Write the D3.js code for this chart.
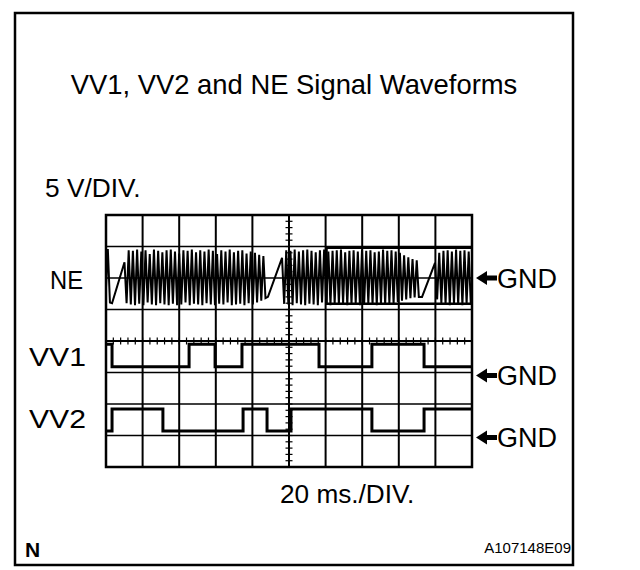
<!DOCTYPE html>
<html>
<head>
<meta charset="utf-8">
<script src="https://cdn.jsdelivr.net/npm/d3@7"></script>
<style>
  html, body { margin: 0; padding: 0; background: #fff; }
  svg { display: block; }
  text { font-family: "Liberation Sans", Arial, sans-serif; fill: #000; }
</style>
</head>
<body>
<script>
// ---------------- DATA ----------------
const titleText = "VV1, VV2 and NE Signal Waveforms";
const voltLabel = "5 V/DIV.";
const timeLabel = "20 ms./DIV.";
const figureId = "A107148E09";
const cornerMark = "N";

const timeDomain = [0, 200];          // ms (10 div x 20 ms)
const divDomain = [0, 8];             // vertical divisions
const voltsPerDiv = 5;

const channelNames = ["NE", "VV1", "VV2"];
const channelGndDiv = [6, 3, 1];      // ground reference division of each trace

// VV1 / VV2 : square waves (time ms, level V)
const vv1Times  = [0, 3.3, 45.4, 59.6, 74.3, 116.4, 145.3, 173.8, 200];
const vv1Levels = [4.5, 0.9, 4.5, 0.9, 4.5, 0.9, 4.5, 0.9, 0.9];
const vv2Times  = [0, 3.3, 31.1, 74.9, 88.0, 101.1, 145.3, 173.8, 200];
const vv2Levels = [0.7, 4.2, 0.7, 4.2, 0.7, 4.2, 0.7, 4.2, 4.2];

// NE : crank teeth signal with missing-tooth ramps
const neToothPeriod = 2.3;                     // ms
const neRampStart = [3.3, 88.5, 172.7];        // ms
const neRampEnd   = [10.1, 96.2, 179.8];       // ms
const neRampLow   = [-4.0, -3.0, -3.0];        // V
const neRampHigh  = [2.5, 3.2, 2.4];           // V
const neSegmentTeeth = [2, 34, 33, 9];
const neHi = [
  4.8, 4.6,
  3.9, 4.4, 4.3, 4.5, 4.2, 4.4, 3.8, 4.5, 4.3, 4.1, 4.4, 4.5, 4.2, 3.9, 4.4, 4.3, 4.5,
  4.1, 4.4, 4.2, 4.5, 4.3, 3.8, 4.4, 4.2, 4.5, 4.1, 4.3, 4.4, 3.9, 4.2, 4.0, 3.7, 3.5,
  4.1, 4.4, 4.3, 4.5, 4.2, 4.4, 4.5, 4.3, 4.1, 4.4, 4.5, 4.2, 4.3, 4.4, 4.5, 4.1, 4.3,
  4.4, 4.2, 4.5, 4.3, 4.4, 4.1, 4.2, 4.5, 4.3, 4.4, 4.2, 4.0, 3.6, 3.3, 3.0, 2.8,
  3.2, 4.0, 4.3, 4.4, 4.2, 4.5, 4.3, 4.4, 4.2
];
const neLo = [
  2.4, 3.9,
  4.0, 4.2, 4.3, 4.1, 4.3, 3.9, 4.2, 4.3, 4.0, 4.2, 4.3, 4.1, 4.3, 4.2, 3.9, 4.3, 4.1,
  4.2, 4.3, 4.0, 4.2, 4.3, 4.1, 4.2, 3.9, 4.3, 4.2, 4.1, 4.3, 4.0, 4.2, 3.9, 3.6, 3.2,
  4.1, 4.2, 4.3, 4.0, 4.2, 4.3, 4.1, 4.2, 4.3, 3.9, 4.2, 4.3, 4.1, 4.2, 4.0, 4.3, 4.2,
  4.1, 4.3, 4.2, 4.0, 4.2, 4.3, 4.1, 4.2, 4.0, 4.1, 3.8, 3.6, 3.4, 3.2, 3.1, 3.0,
  3.4, 4.0, 4.2, 4.3, 4.1, 4.2, 4.3, 4.1, 4.2
];
// highlighted envelope on the NE trace (right part)
const neEnvStart = 120.5;   // ms
const neEnvTop = 4.8;       // V
const neEnvBottom = -4.1;   // V

// ---------------- LAYOUT ----------------
const W = 640, H = 570;
const gx0 = 106, gx1 = 472, gy0 = 215, gy1 = 467;

const svg = d3.select("body").append("svg")
  .attr("width", W).attr("height", H);

const x = d3.scaleLinear().domain(timeDomain).range([gx0, gx1]);
const yDiv = d3.scaleLinear().domain(divDomain).range([gy1, gy0]);
const yV = (ch, v) => yDiv(channelGndDiv[ch] + v / voltsPerDiv);

// outer frame
svg.append("rect").attr("x", 15).attr("y", 13).attr("width", 558).attr("height", 552)
  .attr("fill", "none").attr("stroke", "#000").attr("stroke-width", 2.5);

// ---------------- GRID ----------------
const grid = svg.append("g");
const xTicks = x.ticks(10);
const yTicks = yDiv.ticks(8);
grid.selectAll("line.v").data(xTicks.filter(t => t > timeDomain[0] && t < timeDomain[1]))
  .join("line").attr("class", "v")
  .attr("x1", d => x(d)).attr("x2", d => x(d))
  .attr("y1", gy0).attr("y2", gy1)
  .attr("stroke", "#000").attr("stroke-width", 2);
grid.selectAll("line.h").data(yTicks.filter(t => t > divDomain[0] && t < divDomain[1]))
  .join("line").attr("class", "h")
  .attr("x1", gx0).attr("x2", gx1)
  .attr("y1", d => yDiv(d)).attr("y2", d => yDiv(d))
  .attr("stroke", "#000").attr("stroke-width", d => d === 4 ? 2 : 1.5);

// center graticule minor ticks
const tMid = (timeDomain[0] + timeDomain[1]) / 2;
const dMid = (divDomain[0] + divDomain[1]) / 2;
const minorT = d3.range(timeDomain[0], timeDomain[1] + 0.01, 4);
const minorD = d3.range(divDomain[0], divDomain[1] + 0.01, 0.2);
grid.selectAll("line.mt").data(minorT).join("line").attr("class", "mt")
  .attr("x1", d => x(d)).attr("x2", d => x(d))
  .attr("y1", yDiv(dMid) - 3.5).attr("y2", yDiv(dMid) + 3.5)
  .attr("stroke", "#000").attr("stroke-width", 1.2);
grid.selectAll("line.md").data(minorD).join("line").attr("class", "md")
  .attr("x1", x(tMid) - 3.5).attr("x2", x(tMid) + 3.5)
  .attr("y1", d => yDiv(d)).attr("y2", d => yDiv(d))
  .attr("stroke", "#000").attr("stroke-width", 1.2);

grid.append("rect").attr("x", gx0).attr("y", gy0)
  .attr("width", gx1 - gx0).attr("height", gy1 - gy0)
  .attr("fill", "none").attr("stroke", "#000").attr("stroke-width", 2.5);

// clip
svg.append("clipPath").attr("id", "clip").append("rect")
  .attr("x", gx0).attr("y", gy0).attr("width", gx1 - gx0).attr("height", gy1 - gy0);

// ---------------- TRACES ----------------
const traces = svg.append("g").attr("clip-path", "url(#clip)");

function stepPts(times, levels) { return times.map((t, i) => [t, levels[i]]); }
function stepLine(ch) {
  return d3.line().x(d => x(d[0])).y(d => yV(ch, d[1])).curve(d3.curveStepAfter);
}
traces.append("path").datum(stepPts(vv1Times, vv1Levels))
  .attr("d", stepLine(1)).attr("fill", "none").attr("stroke", "#000").attr("stroke-width", 3);
traces.append("path").datum(stepPts(vv2Times, vv2Levels))
  .attr("d", stepLine(2)).attr("fill", "none").attr("stroke", "#000").attr("stroke-width", 3);

// NE points
const nePts = [];
let k = 0;
neSegmentTeeth.forEach((n, s) => {
  const start = s === 0 ? neRampStart[0] - n * neToothPeriod : neRampEnd[s - 1];
  if (s > 0) nePts.push([neRampEnd[s - 1], neRampHigh[s - 1]]);
  for (let i = 0; i < n; i++, k++) {
    const t = start + i * neToothPeriod;
    if (!(s > 0 && i === 0)) nePts.push([t, neHi[k]]);
    nePts.push([t + neToothPeriod * 0.5, -neLo[k]]);
  }
  if (s < neRampStart.length) nePts.push([neRampStart[s], neRampLow[s]]);
});
traces.append("path").datum(nePts)
  .attr("d", d3.line().x(d => x(d[0])).y(d => yV(0, d[1])))
  .attr("fill", "none").attr("stroke", "#000").attr("stroke-width", 2)
  .attr("stroke-linejoin", "miter");

// envelope highlight
traces.append("path")
  .attr("d", `M${x(timeDomain[1])},${yV(0, neEnvTop)}H${x(neEnvStart)}V${yV(0, neEnvBottom)}H${x(timeDomain[1])}`)
  .attr("fill", "none").attr("stroke", "#000").attr("stroke-width", 2.5);

// ---------------- TEXT ----------------
svg.append("text").attr("x", 294).attr("y", 94).attr("text-anchor", "middle")
  .attr("font-size", 27.4).text(titleText);
svg.append("text").attr("x", 45).attr("y", 197).attr("font-size", 26.3).text(voltLabel);
svg.append("text").attr("x", 280).attr("y", 503).attr("font-size", 26.2).text(timeLabel);
svg.append("text").attr("x", 25).attr("y", 557).attr("font-size", 21)
  .attr("font-weight", "bold").text(cornerMark);
svg.append("text").attr("x", 571).attr("y", 553).attr("text-anchor", "end")
  .attr("font-size", 15).text(figureId);

const nameX = [50, 29, 29];
const nameW = [33, 57, 57];
const nameY = [289, 366, 428];
channelNames.forEach((nm, i) => {
  svg.append("text").attr("x", nameX[i]).attr("y", nameY[i])
    .attr("textLength", nameW[i]).attr("lengthAdjust", "spacingAndGlyphs")
    .attr("font-size", 26.3).text(nm);
});

// GND arrows
const gndY = [yDiv(channelGndDiv[0]), yDiv(channelGndDiv[1]) + 3, yDiv(channelGndDiv[2]) + 2];
gndY.forEach(yy => {
  const g = svg.append("g");
  g.append("path").attr("d", `M476,${yy}L487,${yy - 7}L487,${yy + 7}Z`).attr("fill", "#000");
  g.append("rect").attr("x", 486).attr("y", yy - 2.5).attr("width", 11).attr("height", 5).attr("fill", "#000");
  g.append("text").attr("x", 497).attr("y", yy + 9.5).attr("font-size", 27).text("GND");
});
</script>
</body>
</html>
